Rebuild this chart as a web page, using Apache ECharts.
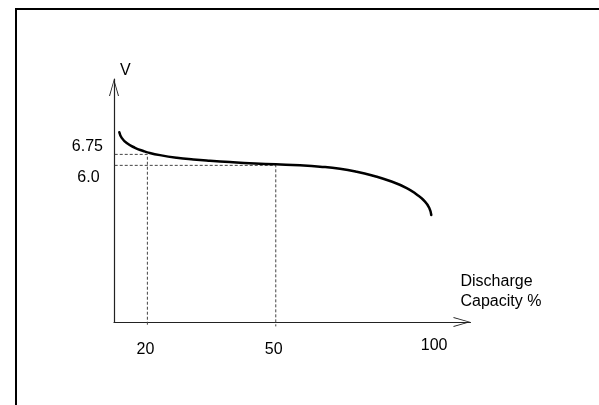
<!DOCTYPE html>
<html>
<head>
<meta charset="utf-8">
<script src="https://cdn.jsdelivr.net/npm/echarts@6/dist/echarts.min.js"></script>
<style>
  html, body { margin: 0; padding: 0; background: #fff; overflow: hidden; }
  #wrap { position: relative; width: 599px; height: 405px; overflow: hidden; }
  #frame { position: absolute; left: 15px; top: 8px; width: 700px; height: 500px;
           border-top: 2px solid #000; border-left: 2px solid #000; box-sizing: border-box; }
  #chart { position: absolute; left: 0; top: 0; width: 599px; height: 405px; }
</style>
</head>
<body>
<div id="wrap">
  <div id="frame"></div>
  <div id="chart"></div>
</div>
<script>
// ---- data (schematic discharge curve) ----
const capacity = [13.44, 14.0, 15.17, 17.11, 19.05, 20.0, 22.95, 26.85, 30.73, 34.63, 40.0, 45.14, 50.0, 55.66, 60.33, 65.0, 68.91, 72.78, 76.69, 80.59, 82.93, 84.87, 85.87, 86.34];
const voltage  = [8.26, 7.88, 7.52, 7.20, 6.98, 6.89, 6.70, 6.52, 6.40, 6.31, 6.21, 6.13, 6.07, 6.00, 5.91, 5.77, 5.57, 5.29, 4.93, 4.45, 4.01, 3.53, 3.09, 2.61];
const xTickValues = [20, 50, 87];
const xTickLabels = ['20', '50', '100'];
const yTickValues = [6.0, 6.75];
const yTickLabels = ['6.0', '6.75'];
const refCapacity = [20, 50];
const refVoltage = [6.75, 6.0];
const xAxisName = 'Discharge\nCapacity %';
const yAxisName = 'V';

// ---- chart ----
const X_MIN = 12.2, X_MAX = 95.5, Y_MIN = -4.7, Y_MAX = 11.9;
const FONT = '"Liberation Sans", Arial, sans-serif';
const arrow = 'path://M0,17 L5,0 L10,17 L9,17 L5,2.6 L1,17 Z';

const curve = capacity.map((c, i) => [c, voltage[i]]);
const guides = refCapacity.map((c, i) => ({
  type: 'line',
  data: [[X_MIN - 1.0, refVoltage[i]], [c, refVoltage[i]], [c, Y_MIN - 0.3]],
  showSymbol: false,
  clip: false,
  silent: true,
  z: 1,
  lineStyle: { color: '#444', width: 1, type: [3, 2] }
}));

const chart = echarts.init(document.getElementById('chart'), null, { renderer: 'canvas' });
chart.setOption({
  animation: false,
  grid: { left: 114, right: 128.5, top: 79, bottom: 83 },
  xAxis: {
    type: 'value', min: X_MIN, max: X_MAX,
    axisLine: { show: true, onZero: false, lineStyle: { color: '#222', width: 1.2 },
      symbol: ['none', arrow], symbolSize: [10, 17], symbolOffset: [0, -8.5] },
    axisTick: { show: false },
    splitLine: { show: false },
    axisLabel: {
      customValues: xTickValues, margin: 16, color: '#000', fontSize: 16, fontFamily: FONT,
      formatter: function (v) {
        const i = xTickValues.indexOf(v);
        const t = i >= 0 ? xTickLabels[i] : '';
        return i === xTickValues.length - 1 ? '{hi|' + t + '}' : '{lo|' + t + '}';
      },
      rich: {
        lo: { padding: [4, 4, 0, 0], fontSize: 16, fontFamily: FONT, color: '#000' },
        hi: { fontSize: 16, fontFamily: FONT, color: '#000' }
      }
    },
    name: xAxisName, nameLocation: 'end', nameGap: -10,
    nameTextStyle: { align: 'left', verticalAlign: 'bottom', lineHeight: 20, padding: [0, 0, 10, 0],
      fontSize: 16, fontFamily: FONT, color: '#000' }
  },
  yAxis: {
    type: 'value', min: Y_MIN, max: Y_MAX,
    axisLine: { show: true, onZero: false, lineStyle: { color: '#222', width: 1.2 },
      symbol: ['none', arrow], symbolSize: [10, 17], symbolOffset: [0, -8.5] },
    axisTick: { show: false },
    splitLine: { show: false },
    axisLabel: {
      customValues: yTickValues, margin: 11, color: '#000', fontSize: 16, fontFamily: FONT,
      formatter: function (v) {
        let i = -1;
        yTickValues.forEach((y, k) => { if (Math.abs(y - v) < 1e-9) i = k; });
        const t = i >= 0 ? yTickLabels[i] : '';
        return i === 0 ? '{dn|' + t + '}' : '{up|' + t + '}';
      },
      rich: {
        up: { padding: [0, 0, 14.6, 0], fontSize: 16, fontFamily: FONT, color: '#000' },
        dn: { padding: [25.4, 3.4, 0, 0], fontSize: 16, fontFamily: FONT, color: '#000' }
      }
    },
    name: yAxisName, nameLocation: 'end', nameGap: 0,
    nameTextStyle: { align: 'left', padding: [0, 0, 0, 6], fontSize: 16, fontFamily: FONT, color: '#000' }
  },
  series: guides.concat([{
    type: 'line',
    data: curve,
    showSymbol: false,
    smooth: 0.5,
    silent: true,
    z: 3,
    lineStyle: { color: '#000', width: 2.5, cap: 'round', join: 'round' }
  }])
});
</script>
</body>
</html>
